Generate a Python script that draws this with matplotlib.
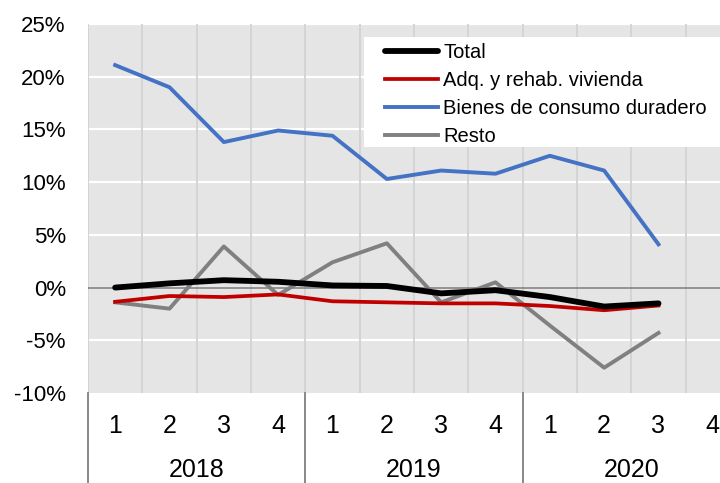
import numpy as np
import matplotlib
matplotlib.use("Agg")
import matplotlib.pyplot as plt
import matplotlib.transforms as mtransforms
from matplotlib.patches import Rectangle

plt.rcParams['font.family'] = ['Liberation Sans', 'DejaVu Sans']

quarters = ['1', '2', '3', '4'] * 3
years = ['2018', '2019', '2020']
total = [0.0, 0.4, 0.7, 0.55, 0.2, 0.15, -0.55, -0.25, -0.9, -1.8, -1.5]
vivienda = [-1.35, -0.8, -0.9, -0.65, -1.3, -1.4, -1.5, -1.5, -1.75, -2.15, -1.7]
duradero = [21.1, 19.0, 13.8, 14.9, 14.4, 10.3, 11.1, 10.8, 12.5, 11.1, 4.1]
resto = [-1.4, -2.0, 3.9, -0.7, 2.4, 4.2, -1.4, 0.5, -3.6, -7.6, -4.3]

x = np.arange(1, len(total) + 1)

fig = plt.figure(figsize=(7.2, 4.83), dpi=100)
ax = fig.add_axes([88/720, 1 - 393/483, 652/720, 369/483])
ax.set_facecolor('#e5e5e5')

ax.set_xlim(0.5, 12.5)
ax.set_ylim(-10, 25)
ax.set_yticks(np.arange(-10, 26, 5))
ax.set_yticklabels(['{}%'.format(v) for v in range(-10, 26, 5)], fontsize=16)
ax.tick_params(axis='y', length=0, pad=16)
ax.set_xticks([])
for s in ax.spines.values():
    s.set_visible(False)

# grid: white horizontal, light grey vertical
for v in range(-5, 26, 5):
    ax.axhline(v, color='white', lw=1.6, zorder=1)
for b in np.arange(0.5, 13, 1):
    ax.axvline(b, color='#d4d4d4', lw=1.4, zorder=1)
ax.axhline(0, color='#7f7f7f', lw=1.2, zorder=2)

ax.plot(x, total, color='black', lw=4.2, label='Total', zorder=5, solid_capstyle='round')
ax.plot(x, vivienda, color='#c00000', lw=2.7, label='Adq. y rehab. vivienda', zorder=4)
ax.plot(x, duradero, color='#4472c4', lw=2.8, label='Bienes de consumo duradero', zorder=4)
ax.plot(x, resto, color='#808080', lw=2.8, label='Resto', zorder=3)

# category axis below plot
trans = mtransforms.blended_transform_factory(ax.transData, fig.transFigure)
for i, q in enumerate(quarters):
    fig.text(i + 1, 1 - 426/483, q, transform=trans, ha='center', va='center', fontsize=18)
for j, yr in enumerate(years):
    fig.text(4*j + 2.5, 1 - 470/483, yr, transform=trans, ha='center', va='center', fontsize=18)
for b in [0.5, 4.5, 8.5]:
    ax.plot([b, b], [1 - 393/483, 0], color='#7f7f7f', lw=1.3, transform=trans, clip_on=False)

# legend box
ax.add_patch(Rectangle((364/720, 1 - 147/483), 360/720, 110/483,
                       transform=fig.transFigure, facecolor='white',
                       edgecolor='none', zorder=6, clip_on=False))
leg = ax.legend(loc='upper left', bbox_to_anchor=(385/720, 1 - 43/483),
                bbox_transform=fig.transFigure, fontsize=14.5, frameon=False,
                handlelength=2.65, handletextpad=0.25, labelspacing=0.44,
                borderpad=0, borderaxespad=0)
leg.set_zorder(7)

fig.savefig('out.png', dpi=100)
